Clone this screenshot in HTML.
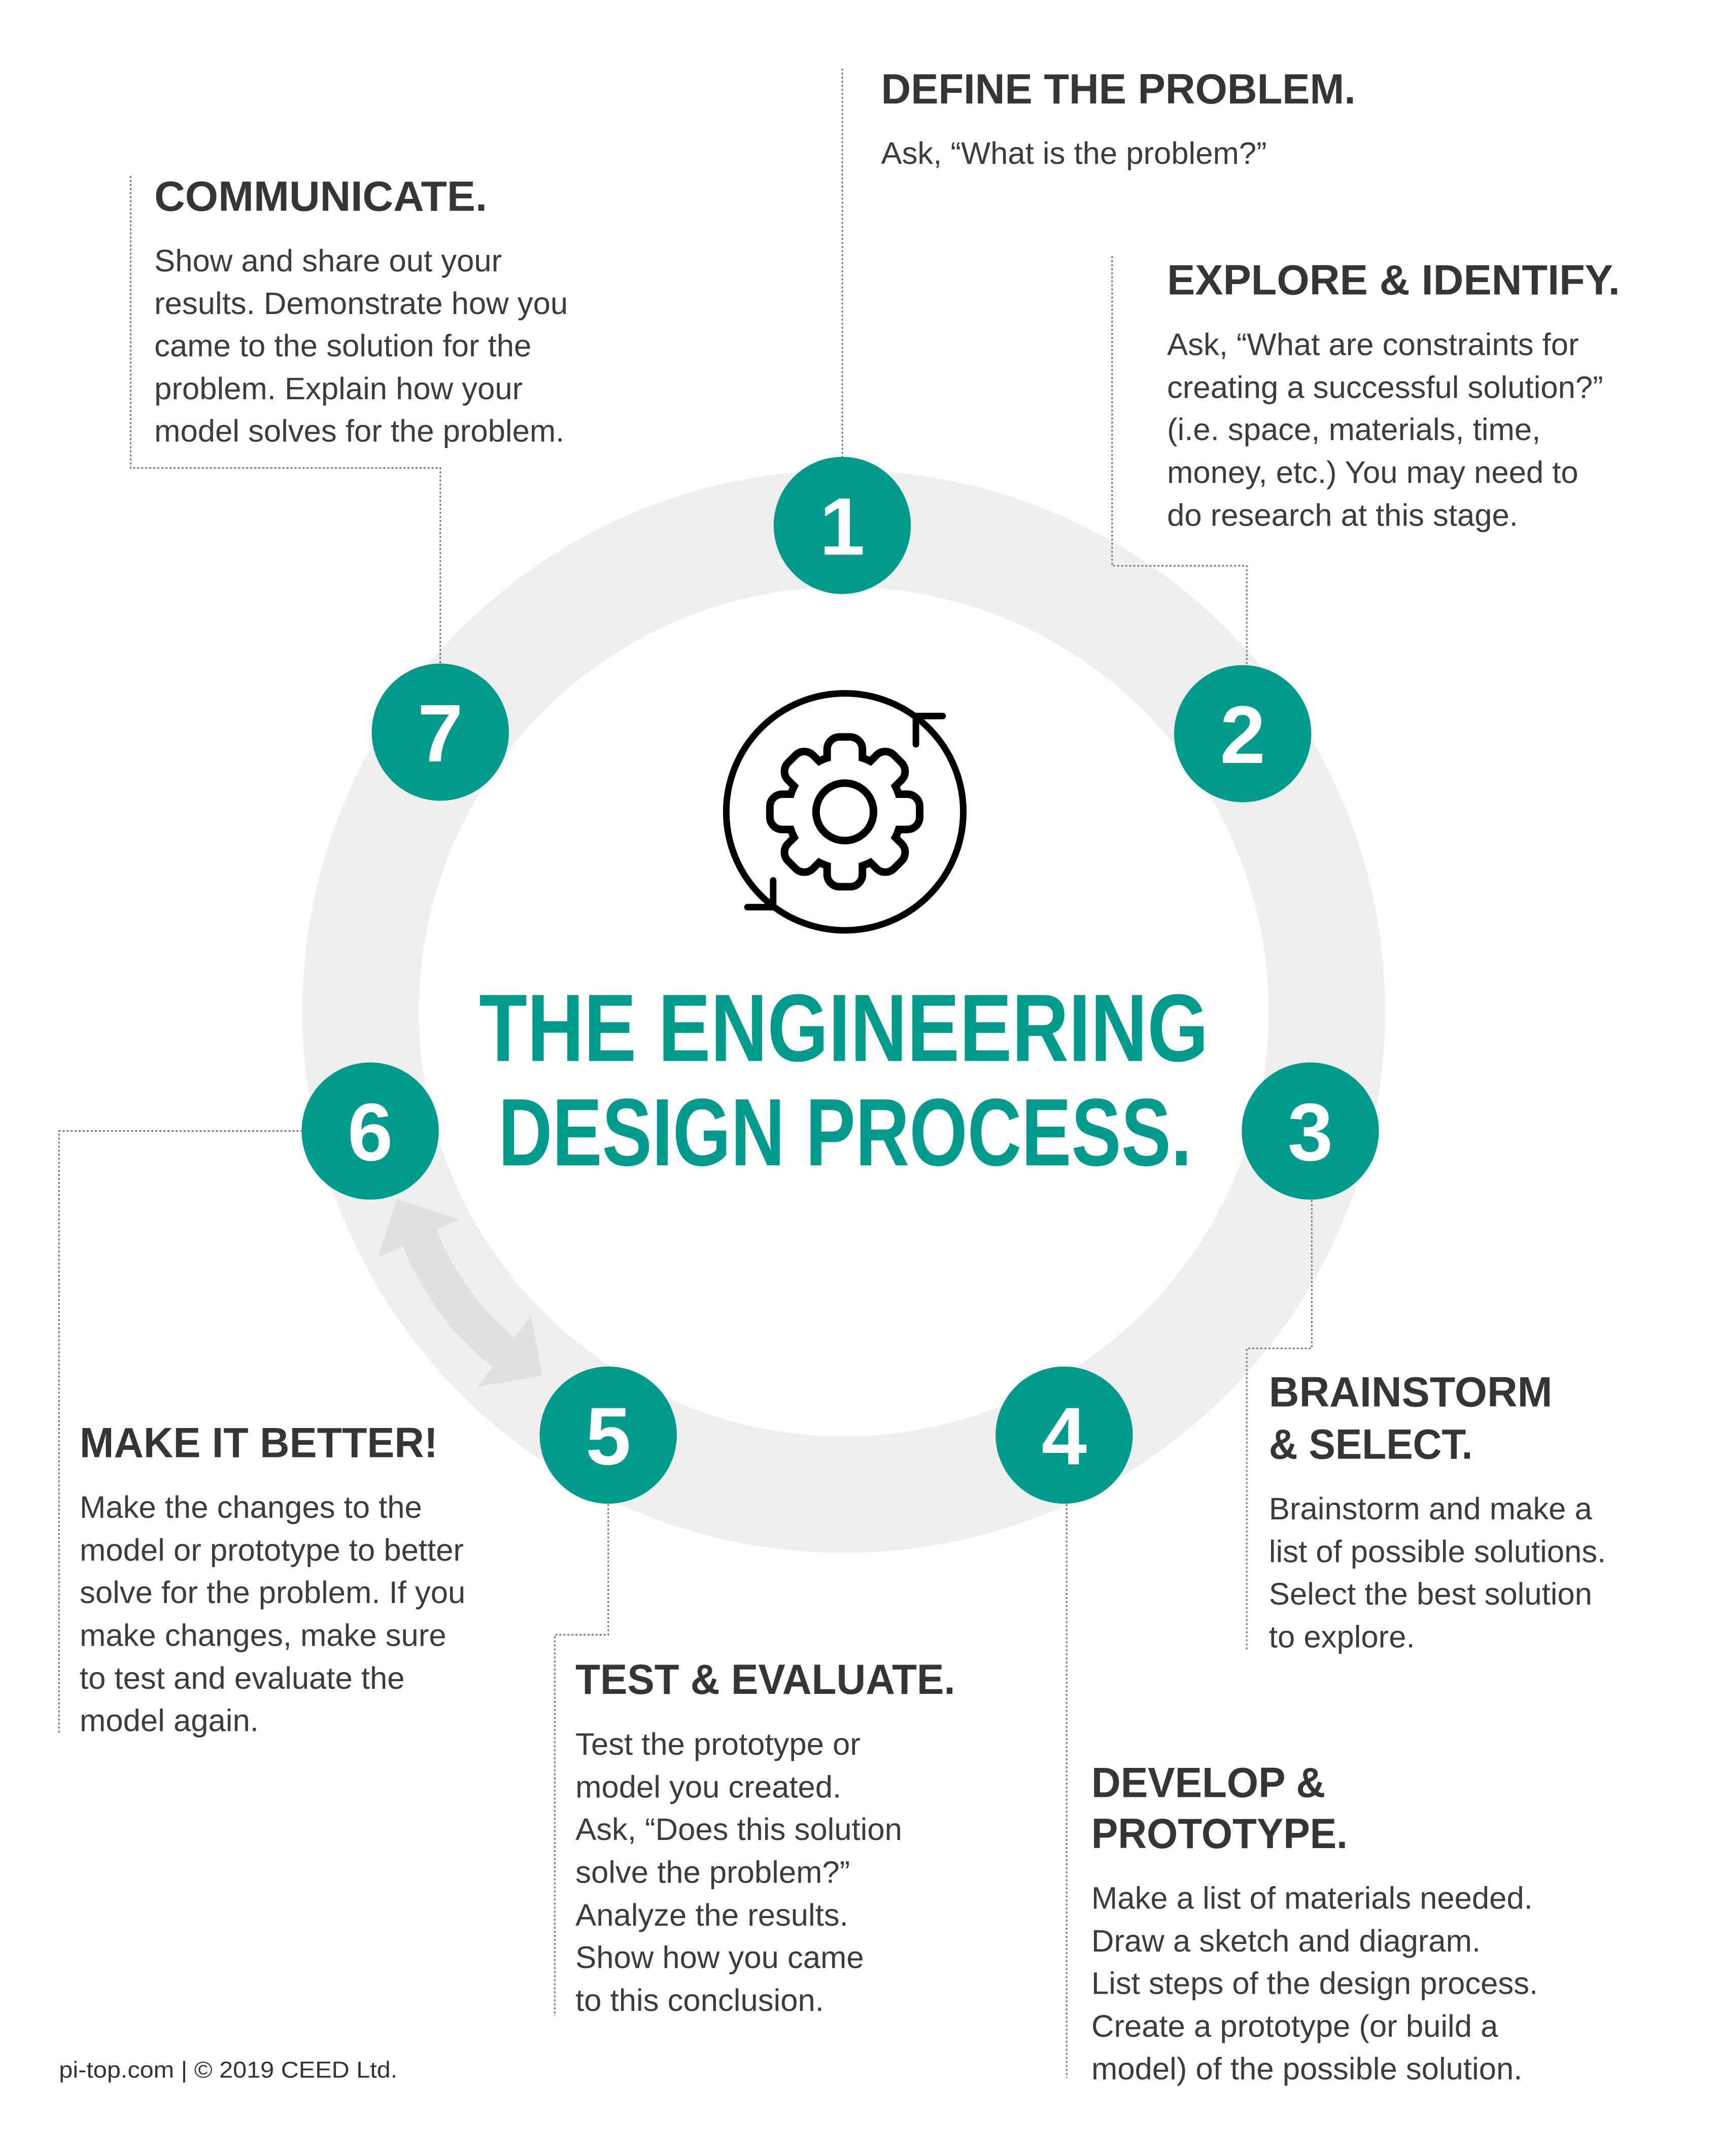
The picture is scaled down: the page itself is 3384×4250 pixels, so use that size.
<!DOCTYPE html>
<html><head><meta charset="utf-8"><style>
html,body{margin:0;padding:0;background:#fff;}
svg{display:block;}
.h{font-family:"Liberation Sans",sans-serif;font-weight:bold;font-size:84px;fill:#353535;}
.b{font-family:"Liberation Sans",sans-serif;font-size:62px;fill:#3c3c3c;}
.n{font-family:"Liberation Sans",sans-serif;font-weight:bold;font-size:162px;fill:#fff;text-anchor:middle;}
.t{font-family:"Liberation Sans",sans-serif;font-weight:bold;font-size:190px;fill:#009b8d;}
.d{stroke:#777;stroke-width:3;stroke-dasharray:4 4;fill:none;}
</style></head><body>
<svg width="3384" height="4250" viewBox="0 0 3384 4250" xmlns="http://www.w3.org/2000/svg">
<rect width="3384" height="4250" fill="#fff"/>
<g transform="scale(0.994)">
<!-- ring -->
<circle cx="1673" cy="2006" r="958" fill="none" stroke="#efefef" stroke-width="231"/>
<!-- double arrow -->
<path d="M787,2378 L910,2418 L865,2439 Q920,2570 1020,2653 L1053,2609 L1075,2728 L947,2750 L977,2711 Q860,2620 798,2471 L749,2494 Z" fill="#e0e0e0"/>
<!-- connectors -->
<path class="d" d="M1670,136 V906"/>
<path class="d" d="M2205,508 V1122 H2472 V1321"/>
<path class="d" d="M2601,2380 V2674 H2472 V3275"/>
<path class="d" d="M2115,2983 V4121"/>
<path class="d" d="M1206,2983 V3242 H1100 V3998"/>
<path class="d" d="M600,2243 H117 V3439"/>
<path class="d" d="M873,1315 V928 H259 V349"/>
<!-- circles -->
<g fill="#009b8d">
<circle cx="1670" cy="1042" r="136"/>
<circle cx="2464" cy="1455" r="136"/>
<circle cx="2598" cy="2243" r="136"/>
<circle cx="2110" cy="2846" r="136"/>
<circle cx="1206" cy="2846" r="136"/>
<circle cx="734" cy="2243" r="136"/>
<circle cx="873" cy="1452" r="136"/>
</g>
<text class="n" x="1670" y="1100">1</text>
<text class="n" x="2464" y="1513">2</text>
<text class="n" x="2598" y="2301">3</text>
<text class="n" x="2110" y="2904">4</text>
<text class="n" x="1206" y="2904">5</text>
<text class="n" x="734" y="2301">6</text>
<text class="n" x="873" y="1510">7</text>
<!-- gear icon -->
<g stroke="#000" stroke-width="13" fill="none" stroke-linecap="round">
<circle cx="1675" cy="1610" r="235"/>
<path d="M1816,1476 V1420 H1869"/>
<path d="M1533,1746 V1799 H1482"/>
</g>
<g transform="translate(1675,1610)">
<g stroke="#000" stroke-width="30" fill="#000" stroke-linejoin="round">
<circle r="105"/>
<rect x="-27.5" y="-141" width="55" height="282" rx="17"/>
<rect x="-27.5" y="-141" width="55" height="282" rx="17" transform="rotate(45)"/>
<rect x="-27.5" y="-141" width="55" height="282" rx="17" transform="rotate(90)"/>
<rect x="-27.5" y="-141" width="55" height="282" rx="17" transform="rotate(135)"/>
</g>
<g fill="#fff">
<circle r="105"/>
<rect x="-27.5" y="-141" width="55" height="282" rx="17"/>
<rect x="-27.5" y="-141" width="55" height="282" rx="17" transform="rotate(45)"/>
<rect x="-27.5" y="-141" width="55" height="282" rx="17" transform="rotate(90)"/>
<rect x="-27.5" y="-141" width="55" height="282" rx="17" transform="rotate(135)"/>
</g>
<circle r="57" fill="none" stroke="#000" stroke-width="15"/>
</g>
<!-- title -->
<text class="t" x="950" y="2104" textLength="1446" lengthAdjust="spacingAndGlyphs">THE ENGINEERING</text>
<text class="t" x="988" y="2311" textLength="1375" lengthAdjust="spacingAndGlyphs">DESIGN PROCESS.</text>
<!-- headings -->
<text class="h" x="1747" y="205" textLength="941" lengthAdjust="spacingAndGlyphs">DEFINE THE PROBLEM.</text>
<text class="h" x="306" y="418" textLength="660" lengthAdjust="spacingAndGlyphs">COMMUNICATE.</text>
<text class="h" x="2314" y="584" textLength="898" lengthAdjust="spacingAndGlyphs">EXPLORE &amp; IDENTIFY.</text>
<text class="h" x="2516" y="2789" textLength="562" lengthAdjust="spacingAndGlyphs">BRAINSTORM</text>
<text class="h" x="2516" y="2893" textLength="404" lengthAdjust="spacingAndGlyphs">&amp; SELECT.</text>
<text class="h" x="2164" y="3564" textLength="464" lengthAdjust="spacingAndGlyphs">DEVELOP &amp;</text>
<text class="h" x="2164" y="3665" textLength="508" lengthAdjust="spacingAndGlyphs">PROTOTYPE.</text>
<text class="h" x="1141" y="3359" textLength="753" lengthAdjust="spacingAndGlyphs">TEST &amp; EVALUATE.</text>
<text class="h" x="158" y="2890" textLength="710" lengthAdjust="spacingAndGlyphs">MAKE IT BETTER!</text>
<!-- bodies -->
<g class="b">
<text x="1747" y="325">Ask, “What is the problem?”</text>

<text x="306" y="538">Show and share out your</text>
<text x="306" y="623">results. Demonstrate how you</text>
<text x="306" y="707">came to the solution for the</text>
<text x="306" y="792">problem. Explain how your</text>
<text x="306" y="876">model solves for the problem.</text>

<text x="2314" y="704">Ask, “What are constraints for</text>
<text x="2314" y="789">creating a successful solution?”</text>
<text x="2314" y="873">(i.e. space, materials, time,</text>
<text x="2314" y="958">money, etc.) You may need to</text>
<text x="2314" y="1043">do research at this stage.</text>

<text x="2516" y="3013">Brainstorm and make a</text>
<text x="2516" y="3098">list of possible solutions.</text>
<text x="2516" y="3182">Select the best solution</text>
<text x="2516" y="3267">to explore.</text>

<text x="2164" y="3785">Make a list of materials needed.</text>
<text x="2164" y="3870">Draw a sketch and diagram.</text>
<text x="2164" y="3954">List steps of the design process.</text>
<text x="2164" y="4039">Create a prototype (or build a</text>
<text x="2164" y="4124">model) of the possible solution.</text>

<text x="1141" y="3480">Test the prototype or</text>
<text x="1141" y="3565">model you created.</text>
<text x="1141" y="3649">Ask, “Does this solution</text>
<text x="1141" y="3734">solve the problem?”</text>
<text x="1141" y="3819">Analyze the results.</text>
<text x="1141" y="3903">Show how you came</text>
<text x="1141" y="3988">to this conclusion.</text>

<text x="158" y="3010">Make the changes to the</text>
<text x="158" y="3095">model or prototype to better</text>
<text x="158" y="3179">solve for the problem. If you</text>
<text x="158" y="3264">make changes, make sure</text>
<text x="158" y="3349">to test and evaluate the</text>
<text x="158" y="3433">model again.</text>
</g>
<text x="117" y="4120" font-family="Liberation Sans, sans-serif" font-size="46" fill="#333" textLength="671" lengthAdjust="spacingAndGlyphs">pi-top.com  |  © 2019 CEED Ltd.</text>
</g>
</svg>
</body></html>
